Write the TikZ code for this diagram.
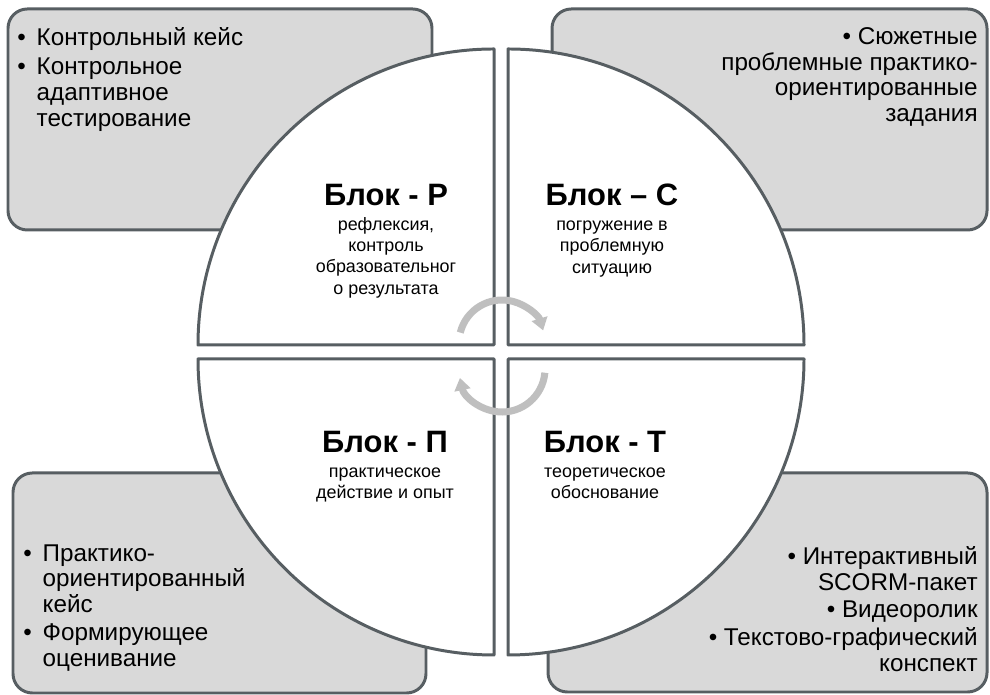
\documentclass[tikz,border=0pt]{standalone}
\usepackage{fontspec}
\setmainfont{Liberation Sans}
\usetikzlibrary{calc,positioning,arrows.meta}
\definecolor{boxgray}{RGB}{217,217,217}
\definecolor{edgegray}{RGB}{87,94,98}
\definecolor{arrowgray}{RGB}{191,191,191}
\newcommand{\itembul}{\makebox[11pt][l]{\textbullet}}
\newcommand{\itemgap}{\hspace*{11pt}}
\newcommand{\titlefont}{\fontsize{17.6}{20}\selectfont\bfseries}

\begin{document}
\begin{tikzpicture}[x=0.02cm,y=0.02cm,
    cornerbox/.style={draw=edgegray,fill=boxgray,line width=1.7pt,rounded corners=11pt},
    quarter/.style={draw=edgegray,fill=white,line width=1.7pt,line join=round},
    cycle arrow/.style={draw=arrowgray,line width=4pt,-{Triangle[length=7pt,width=9pt]}},
    listtext/.style={inner sep=0pt,font=\fontsize{13.8}{14.7}\selectfont},
    blocktext/.style={inner sep=0pt,align=center,font=\fontsize{10.2}{12.1}\selectfont}]
    \path[use as bounding box] (0,0) rectangle (990,695);

    % boxes in the corners
    \draw[cornerbox] (8,465) rectangle (432,686);
    \draw[cornerbox] (552,465) rectangle (987,686);
    \draw[cornerbox] (13,2) rectangle (426,222);
    \draw[cornerbox] (548,3) rectangle (987,222);

    % four quarters of the circle
    \coordinate (qR) at (494,350);
    \coordinate (qC) at (508,350);
    \coordinate (qP) at (494,336);
    \coordinate (qT) at (508,336);
    \foreach \q/\a in {qR/90,qC/0,qP/180,qT/270} {
        \draw[quarter] (\q) -- ++(\a:296) arc[start angle=\a,end angle=\a+90,radius=296] -- cycle;
    }

    % cycle arrows in the middle
    \coordinate (cu) at (502,352);
    \coordinate (cl) at (502,326);
    \draw[cycle arrow] ($(cu)+(166:43)$) arc[start angle=166,end angle=17,radius=43];
    \draw[cycle arrow] ($(cl)+(-5:43)$) arc[start angle=-5,end angle=-168,radius=43];

    % block names
    \node[blocktext,anchor=north] (blockR) at (386,511) {{\titlefont Блок - Р}\\[2pt] рефлексия,\\ контроль\\ образовательног\\ о результата};
    \node[blocktext,anchor=north] (blockC) at (612,511) {{\titlefont Блок – С}\\[2pt] погружение в\\ проблемную\\ ситуацию};
    \node[blocktext,anchor=north] (blockP) at (385,264) {{\titlefont Блок - П}\\[2pt] практическое\\ действие и опыт};
    \node[blocktext,anchor=north] (blockT) at (605,264) {{\titlefont Блок - Т}\\[2pt] теоретическое\\ обоснование};

    % lists in the boxes
    \node[listtext,anchor=north west,align=left] (listR) at (17,668) {\itembul Контрольный кейс\\[2pt] \itembul Контрольное\\ \itemgap адаптивное\\ \itemgap тестирование};
    \node[listtext,anchor=north east,align=right] (listC) at (978,668) {\textbullet\ Сюжетные\\ проблемные практико-\\ ориентированные\\ задания};
    \node[listtext,anchor=north west,align=left] (listP) at (23,151) {\itembul Практико-\\ \itemgap ориентированный\\ \itemgap кейс\\[1pt] \itembul Формирующее\\ \itemgap оценивание};
    \node[listtext,anchor=north east,align=right] (listT) at (978,149) {\textbullet\ Интерактивный\\ SCORM-пакет\\[1pt] \textbullet\ Видеоролик\\[1pt] \textbullet\ Текстово-графический\\ конспект};
\end{tikzpicture}
\end{document}
